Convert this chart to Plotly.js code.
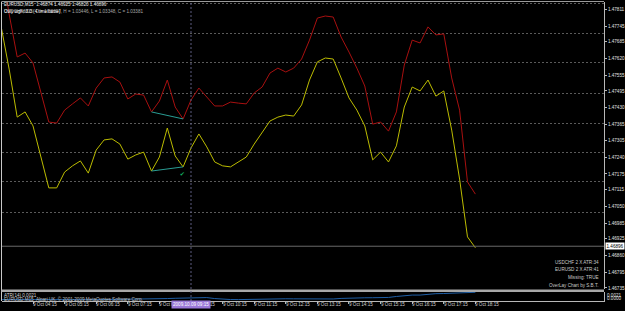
<!DOCTYPE html>
<html>
<head>
<meta charset="utf-8">
<script src="https://cdn.plot.ly/plotly-3.0.1.min.js"></script>
<style>html,body{margin:0;padding:0;background:#000;}#chart{width:625px;height:311px;}</style>
</head>
<body>
<div id="chart"></div>
<script>
// ---- data ----
// USDCHF overlay (red), scaled onto EURUSD price axis
const redSeries = [1.47969,1.47788,1.47626,1.47641,1.47603,1.47487,1.47375,1.47371,1.47421,1.47445,
  1.47468,1.47437,1.47506,1.47545,1.47549,1.47529,1.47464,1.47483,1.47479,1.47414,
  1.47456,1.47537,1.47433,1.47387,1.47460,1.47506,1.47472,1.47437,1.47437,1.47452,
  1.47448,1.47445,1.47487,1.47510,1.47564,1.47583,1.47568,1.47583,1.47618,1.47691,
  1.47776,1.47784,1.47780,1.47703,1.47645,1.47583,1.47514,1.47367,1.47375,1.47340,
  1.47414,1.47595,1.47691,1.47680,1.47742,1.47711,1.47715,1.47545,1.47421,1.47144,1.47097];
// EURUSD M15 (yellow)
const yellowSeries = [1.47738,1.47576,1.47394,1.47414,1.47360,1.47240,1.47121,1.47121,1.47182,1.47206,
  1.47225,1.47178,1.47267,1.47306,1.47310,1.47290,1.47232,1.47248,1.47259,1.47186,
  1.47240,1.47352,1.47244,1.47202,1.47275,1.47329,1.47279,1.47221,1.47206,1.47202,
  1.47221,1.47240,1.47290,1.47333,1.47379,1.47394,1.47402,1.47398,1.47441,1.47537,
  1.47607,1.47622,1.47618,1.47545,1.47468,1.47421,1.47360,1.47229,1.47259,1.47221,
  1.47283,1.47433,1.47510,1.47495,1.47537,1.47475,1.47495,1.47344,1.47155,1.46932,1.46890];
// ATR sub-window (blue)
const atrSeries = [0.00105,0.00104,0.00104,0.00103,0.00104,0.00104,0.00105,0.00104,0.00104,0.00103,
  0.00104,0.00104,0.00104,0.00105,0.00104,0.00104,0.00105,0.00106,0.00112,0.00114,
  0.00115,0.00120,0.00124,0.00128,0.00130,0.00136,0.00134,0.00120,0.00110,0.00106,
  0.00105,0.00108,0.00112,0.00116,0.00118,0.00118,0.00117,0.00116,0.00114,0.00112,
  0.00112,0.00112,0.00114,0.00122,0.00128,0.00130,0.00131,0.00132,0.00134,0.00136,
  0.00150,0.00165,0.00170,0.00170,0.00182,0.00190,0.00192,0.00194,0.00196,0.00204,0.00210];
const barIndex = redSeries.map((_, i) => i);

// price axis tick labels
const priceTicks = [1.47811,1.47745,1.47685,1.47620,1.47555,1.47495,1.47430,1.47365,1.47305,
  1.47240,1.47175,1.47115,1.47050,1.46985,1.46925,1.46860,1.46795,1.46735];
const gridLevels = [1.47834,1.47718,1.47603,1.47487,1.47371,1.47256,1.47144,1.47028];
// time axis labels
const timeTickIdx = [0,4,8,12,16,20,24,28,32,36,40,44,48,52,56,60];
const timeTickText = ["9 Oct 2009","9 Oct 04:15","9 Oct 05:15","9 Oct 06:15","9 Oct 07:15","9 Oct 08:15",
  "9 Oct 09:15","9 Oct 10:15","9 Oct 11:15","9 Oct 12:15","9 Oct 13:15","9 Oct 14:15","9 Oct 15:15",
  "9 Oct 16:15","9 Oct 17:15","9 Oct 18:15"];
// trend lines drawn on the chart (bar indices)
const trendFrom = 19, trendTo = 23;
const checkIdx = [22.9], checkPrice = [1.47172];
const crossIdx = 24, crossLabel = "2009.10.09 09:15";
const lastClose = 1.46896;
const infoLines = ["USDCHF 2 X ATR:34","EURUSD 2 X ATR:41","Missing: TRUE","OverLay Chart by S.B.T."];

// ---- layout helpers ----
const W = 625, H = 311;
const py = p => 1 - p / H;   // pixel row -> paper
const px = p => p / W;       // pixel col -> paper
const FONT = "Liberation Sans, Arial, sans-serif";
const fs = 4.6;

const traces = [
  {x: barIndex, y: redSeries, type: 'scatter', mode: 'lines', line: {color: '#a81010', width: 1}, xaxis: 'x', yaxis: 'y', hoverinfo: 'skip'},
  {x: barIndex, y: yellowSeries, type: 'scatter', mode: 'lines', line: {color: '#bcbc00', width: 1}, xaxis: 'x', yaxis: 'y', hoverinfo: 'skip'},
  {x: [trendFrom, trendTo], y: [redSeries[trendFrom], redSeries[trendTo]], type: 'scatter', mode: 'lines', line: {color: '#2a9d94', width: 1}, xaxis: 'x', yaxis: 'y'},
  {x: [trendFrom, trendTo], y: [yellowSeries[trendFrom], yellowSeries[trendTo]], type: 'scatter', mode: 'lines', line: {color: '#2a9d94', width: 1}, xaxis: 'x', yaxis: 'y'},
  {x: checkIdx, y: checkPrice, type: 'scatter', mode: 'text', text: ['\u2714'], textfont: {color: '#12b060', size: 6, family: 'DejaVu Sans'}, xaxis: 'x', yaxis: 'y'},
  {x: barIndex, y: atrSeries, type: 'scatter', mode: 'lines', line: {color: '#1f5fa6', width: 1}, xaxis: 'x', yaxis: 'y2', hoverinfo: 'skip'}
];

const mainDom = [py(289), py(2)];
const subDom = [py(301), py(292)];
const xDom = [px(2), px(604)];

const annotations = [];
timeTickIdx.forEach((t, k) => annotations.push({
  x: t, xref: 'x', y: py(304.5), yref: 'paper', xanchor: 'left', yanchor: 'middle', showarrow: false,
  text: timeTickText[k], font: {family: FONT, size: fs, color: '#d0d0d0'}, borderpad: 0, xshift: -1
}));
// header texts
annotations.push({x: px(3), y: py(5), xref: 'paper', yref: 'paper', xanchor: 'left', yanchor: 'middle', showarrow: false, borderpad: 0,
  text: 'EURUSD,M15  1.46874 1.46925 1.46820 1.46896', font: {family: FONT, size: fs, color: '#e8e8e8'}});
annotations.push({x: px(3), y: py(11.5), xref: 'paper', yref: 'paper', xanchor: 'left', yanchor: 'middle', showarrow: false, borderpad: 0,
  text: 'USDCHF,M15  O = 1.03397, H = 1.03446, L = 1.03348, C = 1.03381', font: {family: FONT, size: fs, color: '#a8a8a8'}});
annotations.push({x: px(3), y: py(11.5), xref: 'paper', yref: 'paper', xanchor: 'left', yanchor: 'middle', showarrow: false, borderpad: 0,
  text: 'Ovly wght:3.0 (4 timeframe)', font: {family: FONT, size: fs, color: '#f0f0f0'}});
// info lines bottom right
[262, 269.5, 277, 285].forEach((yy, k) => annotations.push({x: px(600), y: py(yy), xref: 'paper', yref: 'paper', xanchor: 'right', yanchor: 'middle',
  showarrow: false, borderpad: 0, text: infoLines[k], font: {family: FONT, size: fs, color: '#c8c8c8'}}));
// sub-window texts
annotations.push({x: px(3), y: py(295.5), xref: 'paper', yref: 'paper', xanchor: 'left', yanchor: 'middle', showarrow: false, borderpad: 0,
  text: 'ATR(14) 0.0021', font: {family: FONT, size: fs, color: '#d8d8d8'}});
annotations.push({x: px(3), y: py(299), xref: 'paper', yref: 'paper', xanchor: 'left', yanchor: 'middle', showarrow: false, borderpad: 0,
  text: 'EURUSD,M15  Alpari UK, \u00a9 2001-2009 MetaQuotes Software Corp.', font: {family: FONT, size: fs, color: '#c0c0c0'}});
annotations.push({x: px(606), y: py(295.5), xref: 'paper', yref: 'paper', xanchor: 'left', yanchor: 'middle', showarrow: false, borderpad: 0,
  text: '0.0021', font: {family: FONT, size: fs, color: '#e0e0e0'}});
annotations.push({x: px(606), y: py(298.8), xref: 'paper', yref: 'paper', xanchor: 'left', yanchor: 'middle', showarrow: false, borderpad: 0,
  text: '0.0000', font: {family: FONT, size: fs, color: '#e0e0e0'}});
// bid price box
annotations.push({x: px(605), y: lastClose, xref: 'paper', yref: 'y', xanchor: 'left', yanchor: 'middle', showarrow: false,
  text: lastClose.toFixed(5), bgcolor: '#ffffff', borderpad: 0.5, font: {family: FONT, size: fs, color: '#000000'}});
// crosshair time label
annotations.push({x: crossIdx, xref: 'x', y: py(304.5), yref: 'paper', xanchor: 'center', yanchor: 'middle', showarrow: false,
  text: crossLabel, bgcolor: '#9a78d8', borderpad: 1, font: {family: FONT, size: fs, color: '#ffffff'}});

const shapes = [
  // top / left borders
  {type: 'line', xref: 'paper', yref: 'paper', x0: px(2), x1: px(604), y0: py(1.5), y1: py(1.5), line: {color: '#9a9a9a', width: 1}},
  {type: 'line', xref: 'paper', yref: 'paper', x0: px(1.5), x1: px(1.5), y0: py(301), y1: py(1.5), line: {color: '#c8c8c8', width: 1}},
  // sub-window separator
  {type: 'rect', xref: 'paper', yref: 'paper', x0: px(1.5), x1: px(604), y0: py(292), y1: py(289.5), fillcolor: '#a8a8a8', line: {width: 0}},
  // bid line
  {type: 'line', xref: 'paper', yref: 'y', x0: xDom[0], x1: xDom[1], y0: lastClose, y1: lastClose, line: {color: '#6a6a6a', width: 1}},
  // crosshair
  {type: 'line', xref: 'x', yref: 'paper', x0: crossIdx, x1: crossIdx, y0: py(301), y1: py(2), line: {color: '#5c5c80', width: 1, dash: '2px,2px'}}
];

const layout = {
  width: W, height: H,
  margin: {l: 0, r: 0, t: 0, b: 0, pad: 0},
  paper_bgcolor: '#000000', plot_bgcolor: '#000000',
  showlegend: false,
  xaxis: {domain: xDom, range: [0.076, 76.28], anchor: 'y2', showgrid: false, zeroline: false,
    showline: true, linecolor: '#b8b8b8', linewidth: 1, tickvals: timeTickIdx, ticks: 'outside', ticklen: 2,
    tickcolor: '#b8b8b8', showticklabels: false, fixedrange: true},
  yaxis: {domain: mainDom, range: [1.46731, 1.47838], side: 'right', anchor: 'x', showgrid: false, zeroline: false,
    showline: true, linecolor: '#b8b8b8', linewidth: 1, tickvals: priceTicks, ticktext: priceTicks.map(v => v.toFixed(5)),
    ticks: 'outside', ticklen: 2, tickcolor: '#b8b8b8', tickfont: {family: FONT, size: fs, color: '#e0e0e0'}},
  yaxis3: {overlaying: 'y', anchor: 'x', side: 'right', range: [1.46731, 1.47838], tickvals: gridLevels, showticklabels: false,
    ticks: '', showgrid: true, gridcolor: '#5a5a5a', gridwidth: 1, griddash: '2px,2px', zeroline: false, showline: false},
  yaxis2: {domain: subDom, range: [0.00085, 0.00214], side: 'right', anchor: 'x', showgrid: false, zeroline: false,
    showline: true, linecolor: '#b8b8b8', linewidth: 1, showticklabels: false, ticks: ''},
  annotations: annotations,
  shapes: shapes
};

// attach an invisible trace to yaxis3 so the grid axis renders
traces.unshift({x: [0], y: [1.47], type: 'scatter', mode: 'markers', marker: {opacity: 0}, xaxis: 'x', yaxis: 'y3', hoverinfo: 'skip'});

Plotly.newPlot('chart', traces, layout, {staticPlot: true, displayModeBar: false});
</script>
</body>
</html>
